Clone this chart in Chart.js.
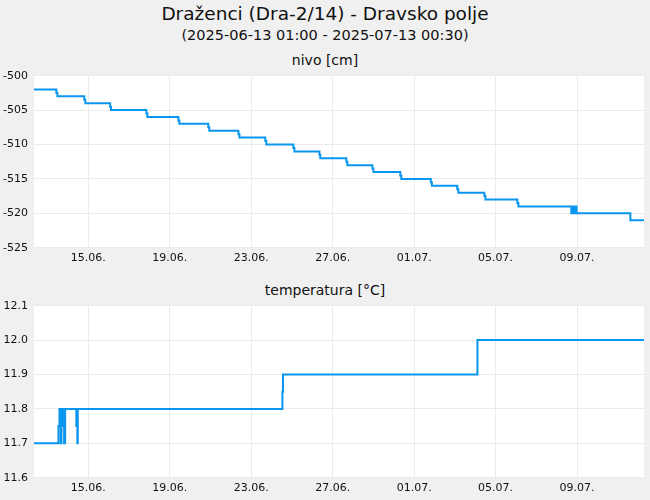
<!DOCTYPE html>
<html>
<head>
<meta charset="utf-8">
<script src="https://cdn.jsdelivr.net/npm/chart.js@4.4.1/dist/chart.umd.min.js"></script>
<style>
  body { margin: 0; background: #f0f0f0; font-family: "DejaVu Sans", sans-serif; overflow: hidden; }
  .txt { position: absolute; left: 0; width: 650px; text-align: center; color: #111; white-space: nowrap; }
  .box { position: absolute; left: 0; width: 650px; height: 220px; }
</style>
</head>
<body>
<div class="txt" style="top:3px;font-size:18.5px;line-height:22px">Draženci (Dra-2/14) - Dravsko polje</div>
<div class="txt" style="top:26px;font-size:14.5px;line-height:18px">(2025-06-13 01:00 - 2025-07-13 00:30)</div>
<div class="txt" style="top:51px;font-size:14px;line-height:18px">nivo [cm]</div>
<div class="txt" style="top:281px;font-size:14px;line-height:18px">temperatura [°C]</div>
<div class="box" style="top:50px"><canvas id="nivoChart"></canvas></div>
<div class="box" style="top:280px"><canvas id="tempChart"></canvas></div>
<script>
// x = day number (June days, July = 30 + day)
let xMin = 12.33
let xMax = 42.29
let dayTicks = [15, 19, 23, 27, 31, 35, 39]

let nivoDays = [12.33, 13.43, 13.48, 14.80, 14.85, 16.07, 16.11, 17.85, 17.90, 19.42, 19.47,
  20.89, 20.94, 22.37, 22.42, 23.69, 23.74, 25.07, 25.12, 26.35, 26.39, 27.67, 27.72,
  28.95, 29.00, 30.32, 30.37, 31.82, 31.87, 33.12, 33.17, 34.45, 34.50, 36.07, 36.12,
  38.72, 38.81, 38.88, 38.93, 38.98, 41.62, 42.29]
let nivoValues = [-502, -502.5, -503, -503.5, -504, -504.5, -505, -505.5, -506, -506.5, -507,
  -507.5, -508, -508.5, -509, -509.5, -510, -510.5, -511, -511.5, -512, -512.5, -513,
  -513.5, -514, -514.5, -515, -515.5, -516, -516.5, -517, -517.5, -518, -518.5, -519,
  -520, -519, -520, -519, -520, -521, -521]

let tempDays = [12.33, 13.53, 13.58, 13.61, 13.64, 13.68, 13.73, 13.77, 13.81, 13.86,
  14.41, 14.46, 14.48, 24.53, 24.56, 34.11, 42.29]
let tempValues = [11.7, 11.75, 11.8, 11.75, 11.7, 11.8, 11.75, 11.8, 11.7, 11.8,
  11.75, 11.7, 11.8, 11.85, 11.9, 12.0, 12.0]

let lineColor = "#0a96ee"
let gridColor = "#ebebeb"

function dayLabel(d) {
  let day = d > 30 ? d - 30 : d
  let mon = d > 30 ? "07" : "06"
  return String(day).padStart(2, "0") + "." + mon + "."
}

// white plot area
let plotBg = {
  id: "plotBg",
  beforeDraw(chart) {
    let a = chart.chartArea
    chart.ctx.save()
    chart.ctx.fillStyle = "#ffffff"
    chart.ctx.fillRect(a.left, a.top, a.right - a.left, a.bottom - a.top)
    chart.ctx.restore()
  }
}

function makeChart(id, days, values, yMin, yMax, yStep) {
  let pts = days.map((d, i) => ({ x: d, y: values[i] }))
  return new Chart(document.getElementById(id), {
    type: "line",
    data: {
      datasets: [{
        data: pts,
        borderColor: lineColor,
        borderWidth: 2,
        stepped: true,
        pointRadius: 0,
        fill: false
      }]
    },
    options: {
      responsive: true,
      maintainAspectRatio: false,
      animation: false,
      layout: { padding: { top: 25.7, right: 6, left: 0, bottom: 0 } },
      plugins: { legend: { display: false }, tooltip: { enabled: false } },
      scales: {
        x: {
          type: "linear",
          min: xMin,
          max: xMax,
          afterBuildTicks: s => { s.ticks = dayTicks.map(v => ({ value: v })) },
          afterFit: s => { s.height = 22.3 },
          grid: { color: gridColor, drawTicks: false },
          border: { display: false },
          ticks: {
            padding: 4,
            maxRotation: 0,
            color: "#111",
            font: { family: "DejaVu Sans", size: 11 },
            callback: v => dayLabel(v)
          }
        },
        y: {
          min: yMin,
          max: yMax,
          afterFit: s => { s.width = 34 },
          grid: { color: gridColor, drawTicks: false },
          border: { display: false },
          ticks: {
            stepSize: yStep,
            padding: 6,
            color: "#111",
            font: { family: "DejaVu Sans", size: 11 }
          }
        }
      }
    },
    plugins: [plotBg]
  })
}

makeChart("nivoChart", nivoDays, nivoValues, -525, -500, 5)
makeChart("tempChart", tempDays, tempValues, 11.6, 12.1, 0.1)
</script>
</body>
</html>
